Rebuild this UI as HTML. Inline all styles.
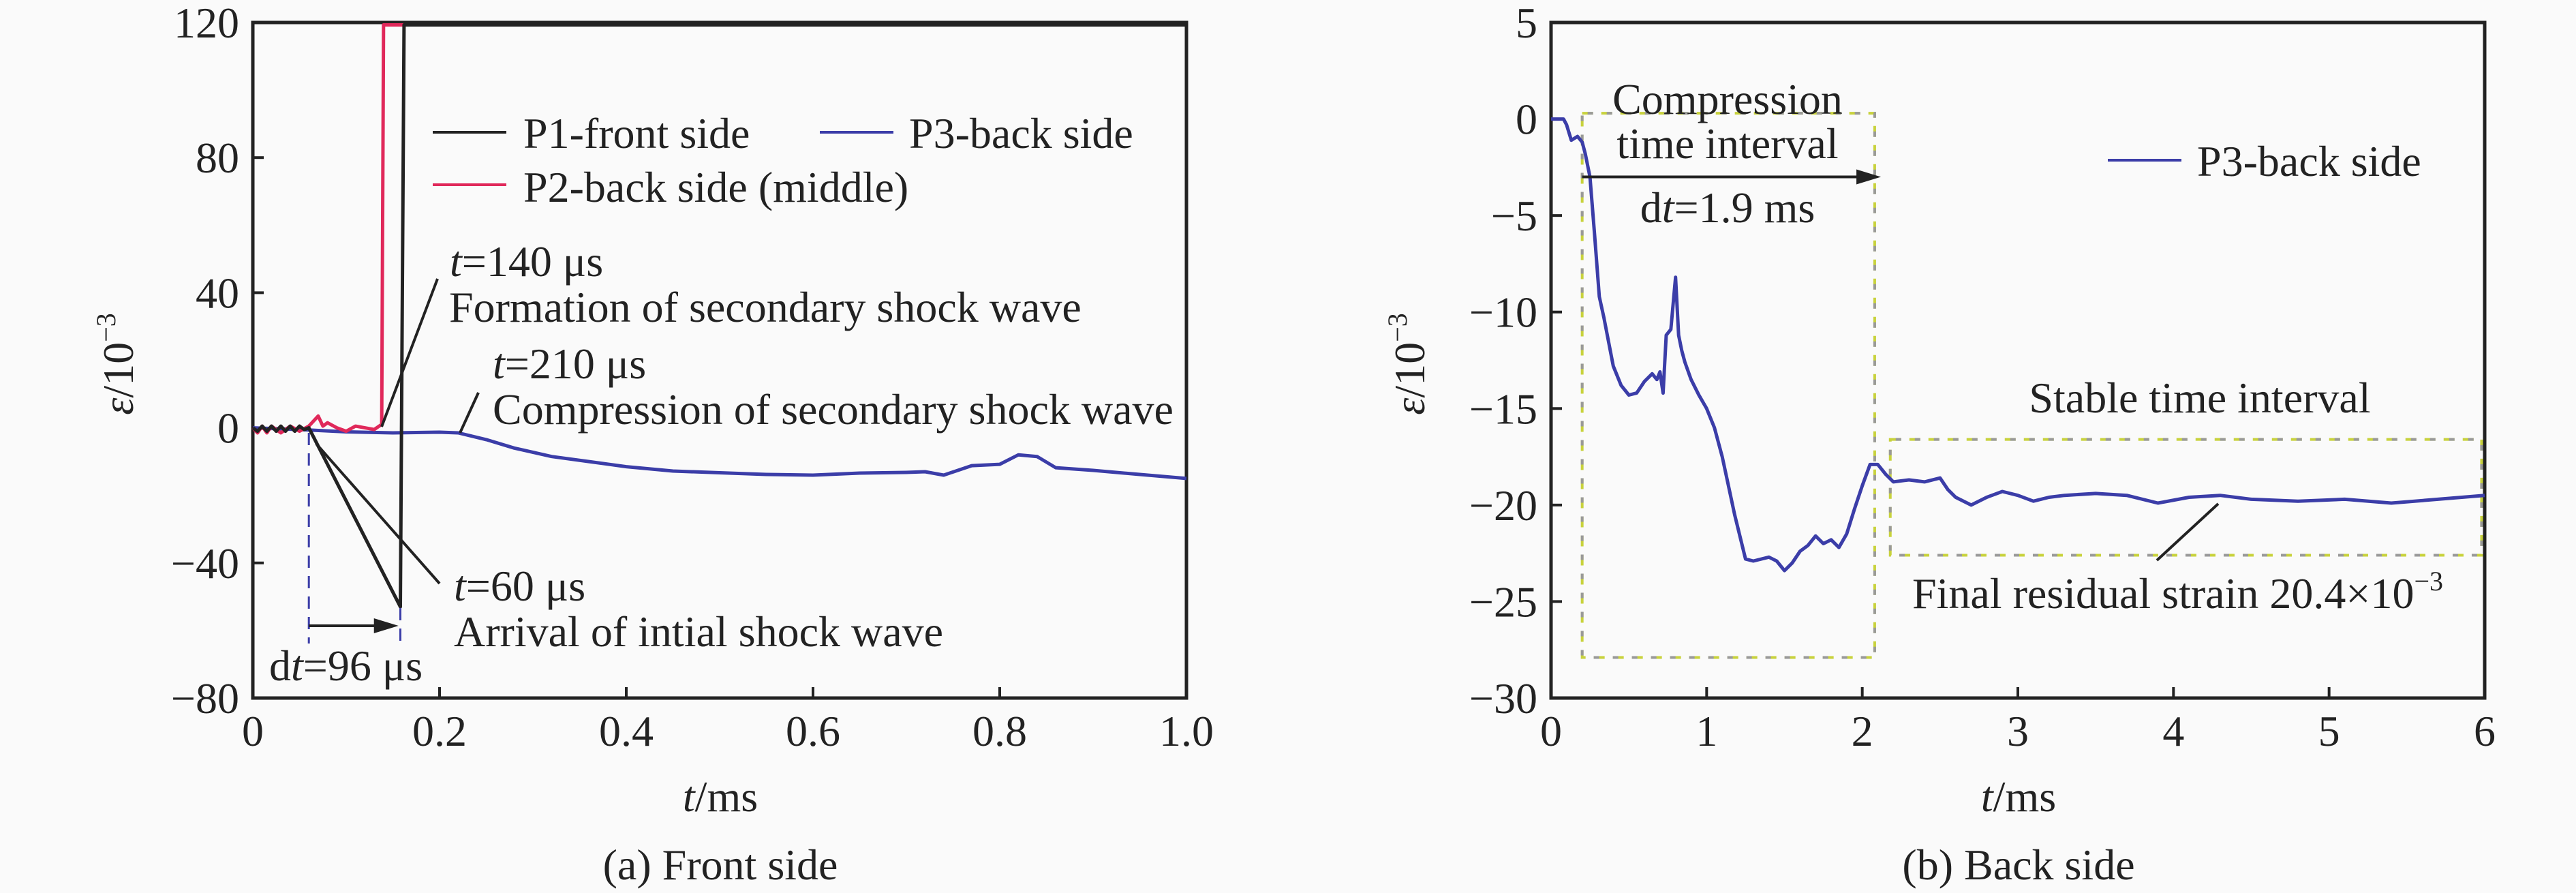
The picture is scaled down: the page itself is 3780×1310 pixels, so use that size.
<!DOCTYPE html>
<html><head><meta charset="utf-8"><style>
html,body{margin:0;padding:0;background:#fafafa;}
svg{display:block;font-family:"Liberation Serif",serif;}
</style></head><body>
<svg id="fig" width="3780" height="1310" viewBox="0 0 3780 1310">
<rect x="0" y="0" width="3780" height="1310" fill="#fafafa"/>
<g id="left"></g>
<g id="right"></g>
</svg>
<script>
// ---- Left chart data (t in ms, strain in 1e-3) ----
const leftXTicks = [0, 0.2, 0.4, 0.6, 0.8, 1.0];
const leftXTickLabels = ["0", "0.2", "0.4", "0.6", "0.8", "1.0"];
const leftYTicks = [120, 80, 40, 0, -40, -80];
const leftYTickLabels = ["120", "80", "40", "0", "\u221240", "\u221280"];
const p1T = [0, 0.005, 0.01, 0.015, 0.02, 0.025, 0.03, 0.035, 0.04, 0.045, 0.05, 0.055, 0.06, 0.158, 0.162, 1.0];
const p1V = [0, -1, 0.5, -1, 0.5, -1, 0.5, -1, 0.5, -1, 0.5, -0.5, 0, -53, 119.3, 119.3];
const p2T = [0, 0.005, 0.01, 0.015, 0.02, 0.03, 0.04, 0.05, 0.06, 0.07, 0.075, 0.08, 0.09, 0.1, 0.11, 0.12, 0.13, 0.138, 0.14, 1.0];
const p2V = [0, -1.5, 0.5, -1.5, 0.5, -1.5, 0.5, -1, 0.5, 3.5, 0.5, 1.5, 0, -1, 0.5, 0, -0.5, 1, 119.3, 119.3];
const p3T = [0, 0.05, 0.1, 0.15, 0.2, 0.22, 0.25, 0.28, 0.32, 0.36, 0.4, 0.45, 0.5, 0.55, 0.6, 0.65, 0.7, 0.72, 0.74, 0.77, 0.8, 0.82, 0.84, 0.86, 0.9, 0.95, 1.0];
const p3V = [0, -0.5, -1.2, -1.5, -1.3, -1.5, -3.5, -6, -8.5, -10, -11.5, -12.8, -13.3, -13.8, -14, -13.4, -13.2, -13, -14, -11.2, -10.8, -8, -8.5, -11.8, -12.6, -13.8, -15];

// ---- Right chart data ----
const rightXTicks = [0, 1, 2, 3, 4, 5, 6];
const rightXTickLabels = ["0", "1", "2", "3", "4", "5", "6"];
const rightYTicks = [5, 0, -5, -10, -15, -20, -25, -30];
const rightYTickLabels = ["5", "0", "\u22125", "\u221210", "\u221215", "\u221220", "\u221225", "\u221230"];
const p3bT = [0, 0.05, 0.08, 0.1, 0.13, 0.17, 0.2, 0.22, 0.25, 0.28, 0.31, 0.34, 0.4, 0.45, 0.5, 0.55, 0.6, 0.65, 0.68, 0.7, 0.72, 0.74, 0.77, 0.8, 0.82, 0.84, 0.86, 0.9, 0.95, 1.0, 1.05, 1.1, 1.18, 1.25, 1.3, 1.4, 1.45, 1.5, 1.55, 1.6, 1.65, 1.7, 1.75, 1.8, 1.85, 1.9, 1.95, 2.0, 2.05, 2.1, 2.15, 2.2, 2.3, 2.4, 2.5, 2.55, 2.6, 2.7, 2.8, 2.9, 3.0, 3.1, 3.2, 3.3, 3.5, 3.7, 3.9, 4.1, 4.3, 4.5, 4.8, 5.1, 5.4, 5.7, 6.0];
const p3bV = [0, 0, 0, -0.3, -1.1, -0.9, -1.2, -1.8, -3, -6, -9.2, -10.3, -12.8, -13.8, -14.3, -14.2, -13.6, -13.2, -13.5, -13.1, -14.2, -11.2, -10.9, -8.2, -11.2, -12, -12.6, -13.5, -14.3, -15, -16, -17.5, -20.5, -22.8, -22.9, -22.7, -22.9, -23.4, -23, -22.4, -22.1, -21.6, -22, -21.8, -22.2, -21.5, -20.2, -19, -17.9, -17.9, -18.4, -18.8, -18.7, -18.8, -18.6, -19.2, -19.6, -20, -19.6, -19.3, -19.5, -19.8, -19.6, -19.5, -19.4, -19.5, -19.9, -19.6, -19.5, -19.7, -19.8, -19.7, -19.9, -19.7, -19.5];

const NS = "http://www.w3.org/2000/svg";
function mk(parent, tag, attrs, text) {
  const e = document.createElementNS(NS, tag);
  for (const k in attrs) e.setAttribute(k, attrs[k]);
  if (text !== undefined) e.textContent = text;
  parent.appendChild(e);
  return e;
}
const FS = 64;

const xL = t => 371 + t * 1370;
const yL = v => 33 + (120 - v) * 991 / 200;
const xR = t => 2276 + t * 1370 / 6;
const yR = v => 33 + (5 - v) * 991 / 35;

function drawAxes(g, x, y, xt, xtl, yt, ytl, xmin, xmax, ymin, ymax) {
  const frame = mk(g, "rect", {x: x(xmin), y: y(ymax), width: x(xmax) - x(xmin), height: y(ymin) - y(ymax), fill: "none", stroke: "#222", "stroke-width": 5});
  
  
  xt.forEach((t, i) => {
    const tk = mk(g, "line", {x1: x(t), x2: x(t), y1: y(ymin), y2: y(ymin) - 16, stroke: "#222", "stroke-width": 4});
    
    
    const lb = mk(g, "text", {x: x(t), y: 1094, "font-size": FS, "text-anchor": "middle", fill: "#222"}, xtl[i]);
    
    
  });
  yt.forEach((v, i) => {
    const tk = mk(g, "line", {x1: x(xmin), x2: x(xmin) + 16, y1: y(v), y2: y(v), stroke: "#222", "stroke-width": 4});
    
    
    const lb = mk(g, "text", {x: x(xmin) - 20, y: y(v) + 22, "font-size": FS, "text-anchor": "end", fill: "#222"}, ytl[i]);
    
    
  });
}
function series(g, x, y, ts, vs, color, name, w) {
  const d = ts.map((t, i) => (i ? "L" : "M") + x(t).toFixed(1) + "," + y(vs[i]).toFixed(1)).join(" ");
  const p = mk(g, "path", {d: d, fill: "none", stroke: color, "stroke-width": w || 5, "stroke-linejoin": "round"});
  
  
  return p;
}
function txt(g, x, y, s, name, anchor, italicParts) {
  const t = mk(g, "text", {x: x, y: y, "font-size": FS, fill: "#222", "text-anchor": anchor || "start"});
  
  
  if (italicParts) {
    italicParts.forEach(p => { mk(t, "tspan", p.i ? {"font-style": "italic"} : (p.sup ? {"font-size": 40, dy: p.dy} : {}), p.s); });
  } else t.textContent = s;
  return t;
}
function line(g, x1, y1, x2, y2, name, attrs) {
  const l = mk(g, "line", Object.assign({x1: x1, y1: y1, x2: x2, y2: y2, stroke: "#222", "stroke-width": 4}, attrs || {}));
  
  
  return l;
}
function arrow(g, x1, x2, y, name) {
  line(g, x1, y, x2 - 30, y, name);
  const a = mk(g, "polygon", {points: `${x2},${y} ${x2 - 36},${y - 11} ${x2 - 36},${y + 11}`, fill: "#222"});
  
  
}
function ylabel(g, cx, cy) {
  const t = mk(g, "text", {x: 0, y: 0, "font-size": FS, fill: "#222", "text-anchor": "middle", transform: `translate(${cx},${cy}) rotate(-90)`});
  
  
  mk(t, "tspan", {"font-style": "italic"}, "ε");
  mk(t, "tspan", {}, "/10");
  mk(t, "tspan", {"font-size": 40, dy: -26}, "\u22123");
}

// ===== Left =====
const L = document.getElementById("left");
drawAxes(L, xL, yL, leftXTicks, leftXTickLabels, leftYTicks, leftYTickLabels, 0, 1, -80, 120);
series(L, xL, yL, p3T, p3V, "#3b3da8", "p3-back-side-line");
series(L, xL, yL, p2T, p2V, "#e0285a", "p2-back-side-middle-line");
series(L, xL, yL, p1T, p1V, "#222", "p1-front-side-line");
line(L, xL(0.06), 635, xL(0.06), 944, "dt-start-dashed", {"stroke-dasharray": "18,12", stroke: "#3b3da8", "stroke-width": 3});
line(L, xL(0.158), 892, xL(0.158), 944, "dt-end-dashed", {"stroke-dasharray": "18,12", stroke: "#3b3da8", "stroke-width": 3});
arrow(L, xL(0.06), xL(0.156), 918, "dt-arrow");
txt(L, 395, 998, "", "dt-96-label", "start", [{s: "d"}, {s: "t", i: true}, {s: "=96 μs"}]);
line(L, 464, 651, 645, 856, "t60-leader");
line(L, 560, 626, 642, 409, "t140-leader");
line(L, 675, 635, 702, 576, "t210-leader");
txt(L, 660, 405, "", "t140-label", "start", [{s: "t", i: true}, {s: "=140 μs"}]);
txt(L, 659, 472, "Formation of secondary shock wave", "formation-label");
txt(L, 723, 555, "", "t210-label", "start", [{s: "t", i: true}, {s: "=210 μs"}]);
txt(L, 723, 622, "Compression of secondary shock wave", "compression-label");
txt(L, 666, 881, "", "t60-label", "start", [{s: "t", i: true}, {s: "=60 μs"}]);
txt(L, 666, 948, "Arrival of intial shock wave", "arrival-label");
line(L, 635, 194, 743, 194, "legend-p1-line");
txt(L, 768, 217, "P1-front side", "legend-p1-label");
line(L, 1203, 194, 1311, 194, "legend-p3-line", {stroke: "#3b3da8"});
txt(L, 1334, 217, "P3-back side", "legend-p3-label");
line(L, 635, 271, 743, 271, "legend-p2-line", {stroke: "#e0285a"});
txt(L, 768, 296, "P2-back side (middle)", "legend-p2-label");
txt(L, 1057, 1190, "", "x-axis-title", "middle", [{s: "t", i: true}, {s: "/ms"}]);
txt(L, 1057, 1290, "(a) Front side", "caption-a", "middle");
ylabel(L, 195, 534);

// ===== Right =====
const R = document.getElementById("right");
drawAxes(R, xR, yR, rightXTicks, rightXTickLabels, rightYTicks, rightYTickLabels, 0, 6, -30, 5);
function dashBox(g, x1, y1, x2, y2, name) {
  const r1 = mk(g, "rect", {x: x1, y: y1, width: x2 - x1, height: y2 - y1, fill: "none", stroke: "#c8d23c", "stroke-width": 4, "stroke-dasharray": "16,12"});
  
  
  const r2 = mk(g, "rect", {x: x1, y: y1, width: x2 - x1, height: y2 - y1, fill: "none", stroke: "#999", "stroke-width": 4, "stroke-dasharray": "8,20", "stroke-dashoffset": -8});
  
  
}
dashBox(R, xR(0.2), yR(0.3), xR(2.08), yR(-27.9), "compression-interval-box");
dashBox(R, xR(2.18), yR(-16.6), xR(5.98), yR(-22.6), "stable-interval-box");
series(R, xR, yR, p3bT, p3bV, "#3b3da8", "p3-back-side-line");
arrow(R, xR(0.2), xR(2.12), yR(-3), "dt-1-9-arrow");
txt(R, 2535, 167, "Compression", "compression-interval-title", "middle");
txt(R, 2535, 232, "time interval", "compression-interval-subtitle", "middle");
txt(R, 2535, 326, "", "dt-1-9-label", "middle", [{s: "d"}, {s: "t", i: true}, {s: "=1.9 ms"}]);
txt(R, 3228, 605, "Stable time interval", "stable-interval-label", "middle");
line(R, 3165, 822, 3255, 739, "residual-leader");
txt(R, 2806, 892, "", "final-residual-label", "start", [{s: "Final residual strain 20.4×10"}, {s: "\u22123", sup: true, dy: -26}]);
line(R, 3093, 235, 3201, 235, "legend-p3-line", {stroke: "#3b3da8"});
txt(R, 3224, 258, "P3-back side", "legend-p3-label");
txt(R, 2962, 1190, "", "x-axis-title", "middle", [{s: "t", i: true}, {s: "/ms"}]);
txt(R, 2962, 1290, "(b) Back side", "caption-b", "middle");
ylabel(R, 2090, 534);
</script>
</body></html>
